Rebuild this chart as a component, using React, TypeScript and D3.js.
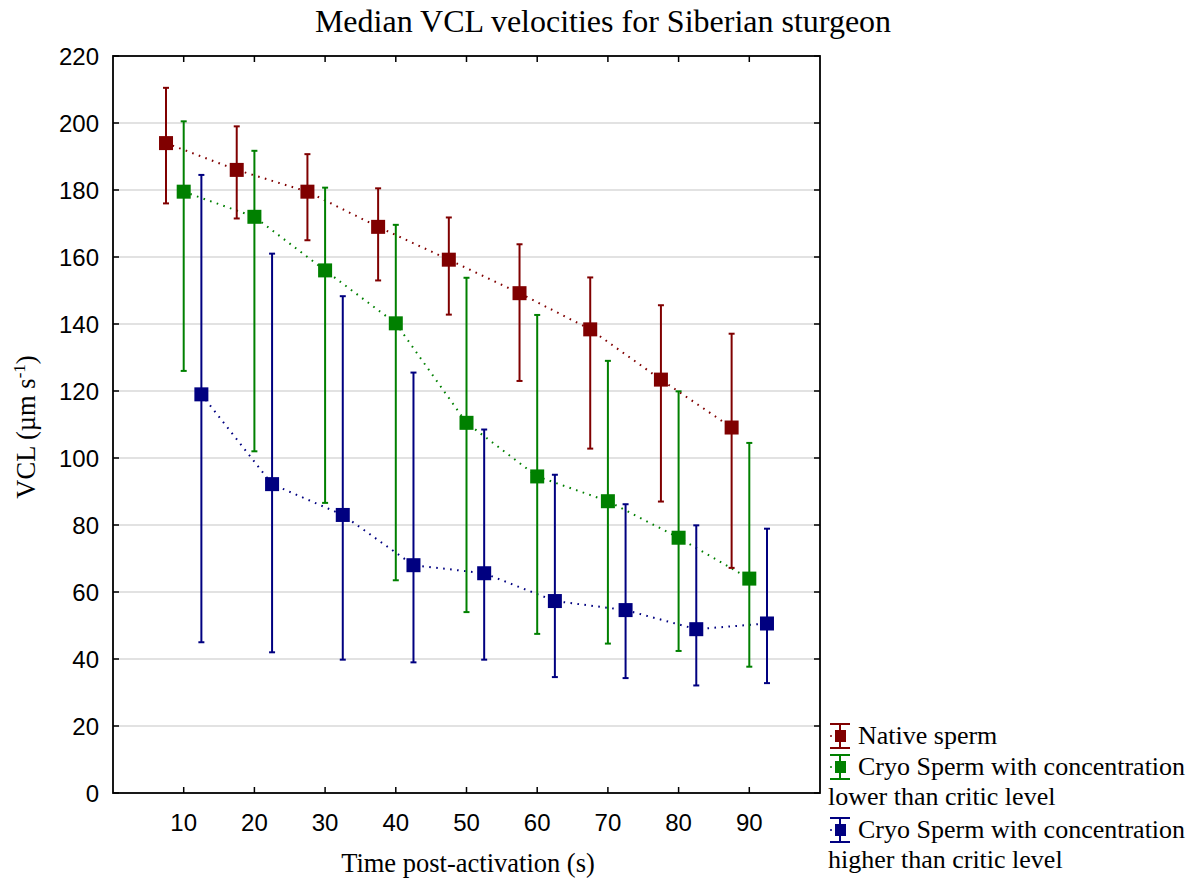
import React from "react";
import * as d3 from "d3";

const timePoints = [10, 20, 30, 40, 50, 60, 70, 80, 90];
const xTicks = [10, 20, 30, 40, 50, 60, 70, 80, 90];
const yTicks = [0, 20, 40, 60, 80, 100, 120, 140, 160, 180, 200, 220];

const nativeMedian = [194, 186, 179.5, 169, 159.2, 149.2, 138.4, 123.4, 109.1];
const nativeUpper = [210.5, 199, 190.7, 180.5, 171.8, 163.8, 153.9, 145.6, 137.1];
const nativeLower = [176, 171.5, 165, 153, 142.8, 123, 102.8, 87, 67.2];

const lowMedian = [179.5, 172, 156, 140.2, 110.5, 94.5, 87.1, 76.2, 64];
const lowUpper = [200.5, 191.7, 180.7, 169.6, 153.8, 142.7, 129, 119.9, 104.5];
const lowLower = [126, 102, 86.6, 63.5, 54, 47.5, 44.6, 42.4, 37.7];

const highMedian = [119, 92.2, 83, 68, 65.6, 57.3, 54.6, 48.9, 50.6];
const highUpper = [184.5, 161, 148.3, 125.5, 108.5, 95, 86.2, 79.9, 78.9];
const highLower = [45, 42, 39.8, 39, 39.8, 34.6, 34.3, 32.1, 32.8];

const seriesNames = ["Native sperm", "Cryo Sperm with concentration", "Cryo Sperm with concentration"];
const seriesSecondLine = ["", "lower than critic level", "higher than critic level"];
const seriesColors = ["#800000", "#008000", "#000080"];
const seriesOffsets = [-2.5, 0, 2.5];

const W = 1196;
const H = 880;
const serif = "'Liberation Serif', 'Times New Roman', serif";
const sans = "'Liberation Sans', Arial, sans-serif";

export default function App() {
  const x = d3.scaleLinear().domain([0, 100]).range([113, 820]);
  const y = d3.scaleLinear().domain([0, 220]).range([793, 56]);
  const [x0, x1] = x.range();
  const [y0, y1] = y.range();

  const series = [
    { med: nativeMedian, up: nativeUpper, lo: nativeLower },
    { med: lowMedian, up: lowUpper, lo: lowLower },
    { med: highMedian, up: highUpper, lo: highLower },
  ];

  const line = d3
    .line<[number, number]>()
    .x((d) => x(d[0]))
    .y((d) => y(d[1]));

  const tickLen = 6;
  const box = 14;
  const cap = 3;

  const legendRows = [736, 767, 830];

  return (
    <svg width={W} height={H} style={{ position: "absolute", left: 0, top: 0, background: "#fff" }}>
      <rect x={0} y={0} width={W} height={H} fill="#fff" />
      <text x={603} y={32} textAnchor="middle" fontFamily={serif} fontSize={32} fill="#000">
        Median VCL velocities for Siberian sturgeon
      </text>

      {/* grid */}
      {yTicks
        .filter((t) => t > 0 && t < 220)
        .map((t) => (
          <line key={"g" + t} x1={x0} x2={x1} y1={y(t)} y2={y(t)} stroke="#d9d9d9" strokeWidth={1.6} />
        ))}

      {/* series lines */}
      {series.map((s, i) => (
        <path
          key={"l" + i}
          d={line(timePoints.map((t, j) => [t + seriesOffsets[i], s.med[j]] as [number, number])) || ""}
          fill="none"
          stroke={seriesColors[i]}
          strokeWidth={2}
          strokeDasharray="1.6 5.4"
        />
      ))}

      {/* error bars + markers */}
      {series.map((s, i) => (
        <g key={"s" + i}>
          {timePoints.map((t, j) => {
            const cx = x(t + seriesOffsets[i]);
            return (
              <g key={j}>
                <line x1={cx} x2={cx} y1={y(s.up[j])} y2={y(s.lo[j])} stroke={seriesColors[i]} strokeWidth={2} />
                <line x1={cx - cap} x2={cx + cap} y1={y(s.up[j])} y2={y(s.up[j])} stroke={seriesColors[i]} strokeWidth={2} />
                <line x1={cx - cap} x2={cx + cap} y1={y(s.lo[j])} y2={y(s.lo[j])} stroke={seriesColors[i]} strokeWidth={2} />
                <rect x={cx - box / 2} y={y(s.med[j]) - box / 2} width={box} height={box} fill={seriesColors[i]} />
              </g>
            );
          })}
        </g>
      ))}

      {/* frame */}
      <rect x={x0} y={y1} width={x1 - x0} height={y0 - y1} fill="none" stroke="#000" strokeWidth={1.8} />

      {/* x ticks */}
      {xTicks.map((t) => (
        <g key={"xt" + t}>
          <line x1={x(t)} x2={x(t)} y1={y0} y2={y0 - tickLen} stroke="#000" strokeWidth={1.5} />
          <line x1={x(t)} x2={x(t)} y1={y1} y2={y1 + tickLen} stroke="#000" strokeWidth={1.5} />
          <text x={x(t)} y={831} textAnchor="middle" fontFamily={sans} fontSize={24} fill="#000">
            {t}
          </text>
        </g>
      ))}

      {/* y ticks */}
      {yTicks.map((t) => (
        <g key={"yt" + t}>
          <line x1={x0} x2={x0 + tickLen} y1={y(t)} y2={y(t)} stroke="#000" strokeWidth={1.5} />
          <line x1={x1} x2={x1 - tickLen} y1={y(t)} y2={y(t)} stroke="#000" strokeWidth={1.5} />
          <text x={99} y={y(t) + 8.5} textAnchor="end" fontFamily={sans} fontSize={24} fill="#000">
            {t}
          </text>
        </g>
      ))}

      {/* axis labels */}
      <text x={468} y={872} textAnchor="middle" fontFamily={serif} fontSize={26.5} fill="#000">
        Time post-activation (s)
      </text>
      <text
        transform={`translate(35, 427) rotate(-90)`}
        textAnchor="middle"
        fontFamily={serif}
        fontSize={26.5}
        fill="#000"
      >
        VCL (µm s
        <tspan dy={-10} fontSize={17}>
          -1
        </tspan>
        <tspan dy={10}>)</tspan>
      </text>

      {/* legend */}
      {seriesNames.map((name, i) => {
        const cy = legendRows[i];
        const c = seriesColors[i];
        return (
          <g key={"lg" + i}>
            <line x1={830} x2={832} y1={cy} y2={cy} stroke={c} strokeWidth={1.5} />
            <line x1={840} x2={840} y1={cy - 12} y2={cy + 12} stroke={c} strokeWidth={2} />
            <line x1={830} x2={850} y1={cy - 12} y2={cy - 12} stroke={c} strokeWidth={2} />
            <line x1={830} x2={850} y1={cy + 12} y2={cy + 12} stroke={c} strokeWidth={2} />
            <rect x={835} y={cy - 6} width={11} height={12} fill={c} />
            <text x={858} y={cy + 7.5} fontFamily={serif} fontSize={26} fill="#000">
              {name}
            </text>
            {seriesSecondLine[i] && (
              <text x={828} y={cy + 38} fontFamily={serif} fontSize={26} fill="#000">
                {seriesSecondLine[i]}
              </text>
            )}
          </g>
        );
      })}
    </svg>
  );
}
